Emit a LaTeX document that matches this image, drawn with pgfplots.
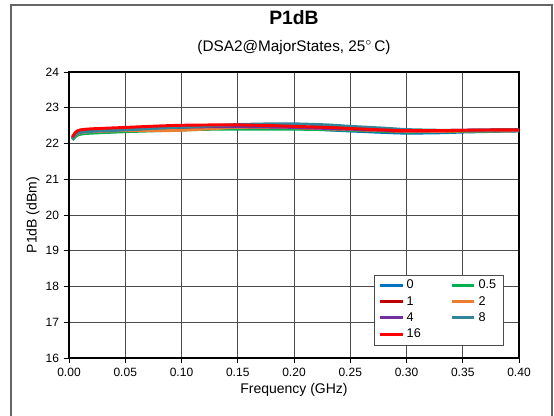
\documentclass[border=0pt]{standalone}
\usepackage{fontspec}
\setmainfont{Liberation Sans}
\usepackage{pgfplots}
\pgfplotsset{compat=1.18}
\definecolor{c0}{HTML}{0070C0}
\definecolor{c05}{HTML}{00B050}
\definecolor{c1}{HTML}{C00000}
\definecolor{c2}{HTML}{ED7D31}
\definecolor{c4}{HTML}{7030A0}
\definecolor{c8}{HTML}{31859C}
\definecolor{c16}{HTML}{FF0000}

\begin{document}
\begin{tikzpicture}
% page frame
\useasboundingbox (-51.75pt,-43.5pt) rectangle (363.75pt,268.5pt);
\draw[black!60, line width=0.8pt] (-43.5pt,-50pt) -- (-43.5pt,264.75pt) -- (362.25pt,264.75pt) -- (362.25pt,-50pt);
\node[font=\fontsize{14.5}{16}\selectfont\bfseries] at (168.75pt,255pt) {P1dB};
\node[font=\fontsize{11.5}{13}\selectfont] at (168.75pt,233pt) {(DSA2@MajorStates, 25$^\circ$\,C)};
\begin{axis}[
  at={(0,0)}, anchor=south west,
  scale only axis,
  width=337.5pt, height=214.5pt,
  xmin=0, xmax=0.4, ymin=16, ymax=24,
  xtick={0,0.05,...,0.4}, ytick={16,17,...,24},
  xticklabel style={/pgf/number format/.cd, fixed, fixed zerofill, precision=2},
  /pgf/number format/assume math mode=true,
  tick label style={font=\fontsize{9}{10}\selectfont},
  every axis label/.style={font=\fontsize{10.5}{12}\selectfont},
  xlabel={Frequency (GHz)}, ylabel={P1dB (dBm)},
  xlabel style={at={(0.5,-0.11)}, anchor=center},
  ylabel style={at={(-0.08,0.5)}, anchor=center},
  grid=major, major grid style={black!70, line width=0.5pt},
  axis line style={black, line width=0.8pt},
  tick align=outside, tick style={black, line width=0.6pt},
  major tick length=4pt,
  xtick pos=bottom, ytick pos=left,
  legend columns=2,
  legend style={at={(0.678,0.045)}, anchor=south west, draw=black!70,
    font=\fontsize{9.5}{11}\selectfont, row sep=0pt,
    /tikz/every even column/.append style={column sep=20pt}},
  legend cell align=left,
  every axis plot/.append style={line width=2.2pt, smooth, mark=none},
]
\addplot[c0] coordinates {(0.003,22.12)(0.006,22.22)(0.01,22.28)(0.02,22.31)(0.05,22.35)(0.08,22.40)(0.10,22.43)(0.13,22.44)(0.15,22.44)(0.18,22.43)(0.20,22.42)(0.23,22.38)(0.25,22.35)(0.28,22.31)(0.30,22.29)(0.33,22.30)(0.35,22.32)(0.38,22.34)(0.40,22.35)};
\addlegendentry{0}
\addplot[c05] coordinates {(0.003,22.10)(0.006,22.20)(0.01,22.26)(0.02,22.29)(0.05,22.33)(0.08,22.36)(0.10,22.38)(0.13,22.40)(0.15,22.40)(0.18,22.40)(0.20,22.40)(0.23,22.39)(0.25,22.37)(0.28,22.34)(0.30,22.32)(0.33,22.33)(0.35,22.34)(0.38,22.35)(0.40,22.36)};
\addlegendentry{0.5}
\addplot[c1] coordinates {(0.003,22.15)(0.006,22.28)(0.01,22.35)(0.02,22.38)(0.05,22.42)(0.08,22.46)(0.10,22.48)(0.13,22.49)(0.15,22.49)(0.18,22.47)(0.20,22.45)(0.23,22.42)(0.25,22.40)(0.28,22.36)(0.30,22.34)(0.33,22.35)(0.35,22.36)(0.38,22.37)(0.40,22.38)};
\addlegendentry{1}
\addplot[c2] coordinates {(0.003,22.13)(0.006,22.24)(0.01,22.30)(0.02,22.33)(0.05,22.36)(0.08,22.36)(0.10,22.37)(0.13,22.42)(0.15,22.45)(0.18,22.45)(0.20,22.44)(0.23,22.41)(0.25,22.39)(0.28,22.36)(0.30,22.34)(0.33,22.34)(0.35,22.35)(0.38,22.35)(0.40,22.36)};
\addlegendentry{2}
\addplot[c4] coordinates {(0.003,22.14)(0.006,22.26)(0.01,22.33)(0.02,22.36)(0.05,22.40)(0.08,22.44)(0.10,22.46)(0.13,22.47)(0.15,22.47)(0.18,22.46)(0.20,22.45)(0.23,22.42)(0.25,22.40)(0.28,22.37)(0.30,22.35)(0.33,22.36)(0.35,22.37)(0.38,22.38)(0.40,22.38)};
\addlegendentry{4}
\addplot[c8] coordinates {(0.003,22.13)(0.006,22.25)(0.01,22.31)(0.02,22.34)(0.05,22.38)(0.08,22.43)(0.10,22.46)(0.13,22.50)(0.15,22.53)(0.18,22.55)(0.20,22.55)(0.23,22.52)(0.25,22.48)(0.28,22.43)(0.30,22.39)(0.33,22.37)(0.35,22.37)(0.38,22.38)(0.40,22.39)};
\addlegendentry{8}
\addplot[c16] coordinates {(0.003,22.18)(0.006,22.32)(0.01,22.38)(0.02,22.41)(0.05,22.45)(0.08,22.49)(0.10,22.51)(0.13,22.52)(0.15,22.52)(0.18,22.50)(0.20,22.48)(0.23,22.45)(0.25,22.42)(0.28,22.38)(0.30,22.36)(0.33,22.36)(0.35,22.37)(0.38,22.38)(0.40,22.38)};
\addlegendentry{16}
\end{axis}
\end{tikzpicture}
\end{document}
